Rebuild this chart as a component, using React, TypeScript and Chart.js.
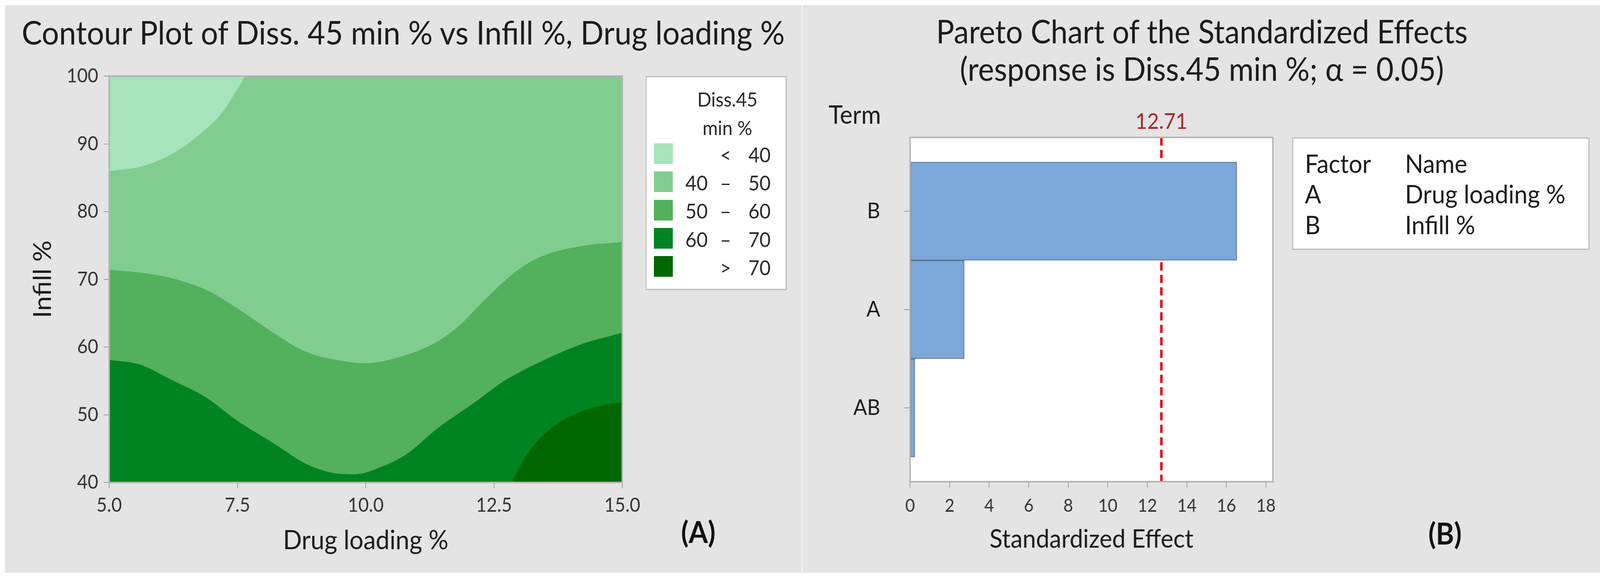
import React, { useEffect, useRef, useState } from 'react';
import { Chart, registerables } from 'chart.js';

Chart.register(...registerables);
Chart.defaults.font.family = 'Lato, sans-serif';
Chart.defaults.color = '#333333';

// ---------------- Contour plot (A) ----------------
const drugLoadingTicks = [5.0, 7.5, 10.0, 12.5, 15.0];
const drugLoadingTickLabels = ['5.0', '7.5', '10.0', '12.5', '15.0'];
const infillTicks = [40, 50, 60, 70, 80, 90, 100];
const infillTickLabels = ['40', '50', '60', '70', '80', '90', '100'];

const levelFirst = ['', '40', '50', '60', ''];
const levelSymbol = ['<', '–', '–', '–', '>'];
const levelSecond = ['40', '50', '60', '70', '70'];
const levelColors = ['#a6e4bb', '#80cd8f', '#53b05c', '#008321', '#006700'];
const legendTitleLines = ['Diss.45', 'min %'];

// background band (40 – 50) covering the whole design space
const band4050X = [5.0, 15.0];
const band4050Y = [100, 100];
// contour boundaries (Drug loading %, Infill %)
const contour40X = [5.0, 5.6, 6.2, 6.7, 7.2, 7.5, 7.65];
const contour40Y = [86.0, 86.6, 88.4, 91.0, 94.6, 98.1, 100.0];
const contour50X = [5.0, 5.6, 6.2, 6.9, 7.5, 8.2, 8.8, 9.5, 10.0, 10.6, 11.3, 11.8, 12.3, 12.9, 13.4, 14.2, 15.0];
const contour50Y = [71.4, 71.0, 70.2, 68.4, 65.7, 62.1, 59.4, 58.0, 57.6, 58.4, 60.4, 63.0, 66.8, 71.0, 73.3, 74.9, 75.5];
const contour60X = [5.0, 5.6, 6.2, 6.9, 7.5, 8.2, 8.8, 9.3, 9.8, 10.3, 10.8, 11.4, 12.1, 12.7, 13.4, 14.2, 15.0];
const contour60Y = [58.1, 57.4, 55.2, 52.5, 49.1, 45.8, 42.9, 41.5, 41.2, 42.3, 44.2, 48.0, 51.7, 55.0, 57.8, 60.4, 62.1];
const contour70X = [12.85, 13.06, 13.38, 13.87, 14.36, 15.0];
const contour70Y = [40.0, 43.1, 46.4, 49.3, 50.9, 51.9];

// ---------------- Pareto chart (B) ----------------
const terms = ['B', 'A', 'AB'];
const termRanks = [1, 2, 3];
const standardizedEffects = [16.53, 2.74, 0.24];
const effectTicks = [0, 2, 4, 6, 8, 10, 12, 14, 16, 18];
const criticalEffect = 12.71;
const factorCodes = ['A', 'B'];
const factorNames = ['Drug loading %', 'Infill %'];

const PAGE_W = 4397;
const PAGE_H = 1491;
const PANEL_BG = '#e4e4e4';
const FRAME = '#b4b4b4';
const TEXT = '#1c1c1c';

const toPts = (xs: number[], ys: number[]) => xs.map((x, i) => ({ x, y: ys[i] }));

const framePlugin = (fill?: string) => ({
  id: 'frame',
  beforeDraw(chart: any) {
    if (!fill) return;
    const { left, top, width, height } = chart.chartArea;
    const ctx = chart.ctx;
    ctx.save();
    ctx.fillStyle = fill;
    ctx.fillRect(left, top, width, height);
    ctx.restore();
  },
  afterDraw(chart: any) {
    const { left, top, width, height } = chart.chartArea;
    const ctx = chart.ctx;
    ctx.save();
    ctx.strokeStyle = FRAME;
    ctx.lineWidth = 4;
    ctx.strokeRect(left, top, width, height);
    ctx.restore();
  },
});

const criticalLinePlugin = {
  id: 'criticalLine',
  beforeDatasetsDraw(chart: any) {
    const ctx = chart.ctx;
    const x = chart.scales.x.getPixelForValue(criticalEffect);
    const { top, bottom } = chart.chartArea;
    ctx.save();
    ctx.setLineDash([21, 11]);
    ctx.strokeStyle = '#e01019';
    ctx.lineWidth = 7;
    ctx.beginPath();
    ctx.moveTo(x, top);
    ctx.lineTo(x, bottom);
    ctx.stroke();
    ctx.setLineDash([]);
    ctx.fillStyle = '#a3252b';
    ctx.font = '56px Lato, sans-serif';
    ctx.textAlign = 'center';
    ctx.textBaseline = 'middle';
    ctx.fillText(criticalEffect.toFixed(2), x, top - 40);
    ctx.restore();
  },
};

function ContourChart() {
  const ref = useRef<HTMLCanvasElement>(null);
  useEffect(() => {
    const layer = (xs: number[], ys: number[], color: string, fill: string, order: number) => ({
      data: toPts(xs, ys),
      backgroundColor: color,
      borderColor: color,
      borderWidth: 0,
      pointRadius: 0,
      fill,
      order,
      cubicInterpolationMode: 'monotone' as const,
    });
    const chart = new Chart(ref.current as HTMLCanvasElement, {
      type: 'line',
      data: {
        datasets: [
          layer(band4050X, band4050Y, levelColors[1], 'start', 5),
          layer(contour50X, contour50Y, levelColors[2], 'start', 4),
          layer(contour60X, contour60Y, levelColors[3], 'start', 3),
          layer(contour70X, contour70Y, levelColors[4], 'start', 2),
          layer(contour40X, contour40Y, levelColors[0], 'end', 1),
        ] as any,
      },
      options: {
        animation: false,
        responsive: false,
        devicePixelRatio: 1,
        layout: { padding: { top: 182, right: 493, left: 0, bottom: 0 } },
        plugins: { legend: { display: false }, tooltip: { enabled: false }, title: { display: false } },
        scales: {
          x: {
            type: 'linear',
            min: 5,
            max: 15,
            afterBuildTicks: (s: any) => { s.ticks = drugLoadingTicks.map((v) => ({ value: v })); },
            afterFit: (s: any) => { s.height = 231; },
            ticks: {
              callback: (_v: any, i: number) => drugLoadingTickLabels[i],
              font: { size: 50 },
              color: '#333333',
              padding: 14,
              maxRotation: 0,
              autoSkip: false,
            },
            grid: { drawOnChartArea: false, drawTicks: true, tickLength: 15, color: '#9a9a9a', lineWidth: 2 },
            border: { display: false },
            title: { display: true, text: 'Drug loading %', font: { size: 68 }, color: TEXT, padding: { top: 0, bottom: 41 } },
          },
          y: {
            type: 'linear',
            min: 40,
            max: 100,
            afterBuildTicks: (s: any) => { s.ticks = infillTicks.map((v) => ({ value: v })); },
            afterFit: (s: any) => { s.width = 286; },
            ticks: {
              callback: (_v: any, i: number) => infillTickLabels[i],
              font: { size: 50 },
              color: '#333333',
              padding: 15,
              autoSkip: false,
            },
            grid: { drawOnChartArea: false, drawTicks: true, tickLength: 15, color: '#9a9a9a', lineWidth: 2 },
            border: { display: false },
            title: { display: true, text: 'Infill %', font: { size: 68 }, color: TEXT, padding: { top: 63, bottom: 0 } },
          },
        },
      } as any,
      plugins: [framePlugin()],
    });
    return () => chart.destroy();
  }, []);
  return (
    <canvas
      ref={ref}
      width={2189}
      height={1454}
      style={{ position: 'absolute', left: 14, top: 13, width: 2189, height: 1454 }}
    />
  );
}

function ParetoChart() {
  const ref = useRef<HTMLCanvasElement>(null);
  useEffect(() => {
    const chart = new Chart(ref.current as HTMLCanvasElement, {
      type: 'bar',
      data: {
        datasets: [
          {
            data: termRanks.map((r, i) => ({ x: standardizedEffects[i], y: r })),
            backgroundColor: '#7ba7d9',
            borderColor: '#55708f',
            borderWidth: 2,
            borderSkipped: false,
            barPercentage: 1,
            categoryPercentage: 1,
          },
        ] as any,
      },
      options: {
        indexAxis: 'y',
        animation: false,
        responsive: false,
        devicePixelRatio: 1,
        layout: { padding: { top: 339, right: 899, left: 0, bottom: 0 } },
        plugins: { legend: { display: false }, tooltip: { enabled: false }, title: { display: false } },
        scales: {
          x: {
            type: 'linear',
            min: 0,
            max: 18.35,
            offset: false,
            afterBuildTicks: (s: any) => { s.ticks = effectTicks.map((v) => ({ value: v })); },
            afterFit: (s: any) => { s.height = 233; },
            ticks: {
              callback: (_v: any, i: number) => String(effectTicks[i]),
              font: { size: 46 },
              color: '#333333',
              padding: 20,
              maxRotation: 0,
              autoSkip: false,
            },
            grid: { offset: false, drawOnChartArea: false, drawTicks: true, tickLength: 15, color: '#9a9a9a', lineWidth: 2 },
            border: { display: false },
            title: { display: true, text: 'Standardized Effect', font: { size: 66 }, color: TEXT, padding: { top: 0, bottom: 46 } },
          },
          y: {
            type: 'linear',
            min: 0.25,
            max: 3.75,
            reverse: true,
            offset: false,
            afterBuildTicks: (s: any) => { s.ticks = termRanks.map((v) => ({ value: v })); },
            afterFit: (s: any) => { s.width = 295; },
            ticks: {
              callback: (_v: any, i: number) => terms[i],
              font: { size: 56 },
              color: TEXT,
              padding: 65,
              autoSkip: false,
            },
            grid: { offset: false, drawOnChartArea: false, drawTicks: true, tickLength: 17, color: '#9a9a9a', lineWidth: 2 },
            border: { display: false },
          },
        },
      } as any,
      plugins: [framePlugin('#ffffff'), criticalLinePlugin],
    });
    return () => chart.destroy();
  }, []);
  return (
    <canvas
      ref={ref}
      width={2191}
      height={1454}
      style={{ position: 'absolute', left: 2206, top: 13, width: 2191, height: 1454 }}
    />
  );
}

type TxtProps = {
  x: number;
  y: number;
  size: number;
  anchor?: 'left' | 'center' | 'right';
  weight?: number;
  color?: string;
  children: React.ReactNode;
};

function Txt({ x, y, size, anchor = 'left', weight = 400, color = TEXT, children }: TxtProps) {
  const tx = anchor === 'center' ? '-50%' : anchor === 'right' ? '-100%' : '0';
  return (
    <div
      style={{
        position: 'absolute',
        left: x,
        top: y - size * 0.53,
        fontSize: size,
        lineHeight: `${size}px`,
        height: size,
        whiteSpace: 'nowrap',
        transform: `translateX(${tx})`,
        fontWeight: weight,
        color,
      }}
    >
      {children}
    </div>
  );
}

const fitScale = () => ({ sx: window.innerWidth / PAGE_W, sy: window.innerHeight / PAGE_H });

export default function App() {
  const [scale, setScale] = useState(fitScale);
  useEffect(() => {
    document.body.style.margin = '0';
    document.body.style.overflow = 'hidden';
    const onResize = () => setScale(fitScale());
    onResize();
    window.addEventListener('resize', onResize);
    return () => window.removeEventListener('resize', onResize);
  }, []);
  const legendRowY = (i: number) => 393 + i * 72.25;
  const factorRowY = (i: number) => 498 + i * 79;
  return (
    <div style={{ position: 'fixed', left: 0, top: 0, width: '100vw', height: '100vh', overflow: 'hidden', background: '#ffffff' }}>
      <div
        style={{
          position: 'absolute',
          left: 0,
          top: 0,
          width: PAGE_W,
          height: PAGE_H,
          transform: `scale(${scale.sx}, ${scale.sy})`,
          transformOrigin: '0 0',
          background: '#ffffff',
          fontFamily: 'Lato, sans-serif',
          overflow: 'hidden',
        }}
      >
        <div style={{ position: 'absolute', left: 14, top: 13, width: 2189, height: 1454, background: PANEL_BG }} />
        <div style={{ position: 'absolute', left: 2203, top: 13, width: 3, height: 1454, background: '#f1f1f1' }} />
        <div style={{ position: 'absolute', left: 2206, top: 13, width: 2191, height: 1454, background: PANEL_BG }} />

        <ContourChart />
        <ParetoChart />

        {/* Panel A texts */}
        <Txt x={1108} y={85} size={84} anchor="center">
          Contour Plot of Diss. 45 min % vs Infill %, Drug loading %
        </Txt>
        <div
          style={{
            position: 'absolute',
            left: 1774,
            top: 195,
            width: 388,
            height: 548,
            boxSizing: 'border-box',
            border: '3px solid #bcbcbc',
            background: '#ffffff',
          }}
        />
        {legendTitleLines.map((t, i) => (
          <Txt key={t} x={1999} y={255 + i * 73} size={51} anchor="center" color="#2a2a2a">
            {t}
          </Txt>
        ))}
        {levelColors.map((c, i) => (
          <React.Fragment key={c}>
            <div
              style={{
                position: 'absolute',
                left: 1797,
                top: legendRowY(i) - 26,
                width: 52,
                height: 53,
                background: c,
              }}
            />
            {levelFirst[i] && (
              <Txt x={1945} y={legendRowY(i) + 4} size={53} anchor="right" color="#2a2a2a">
                {levelFirst[i]}
              </Txt>
            )}
            <Txt x={1994} y={legendRowY(i) + 4} size={53} anchor="center" color="#2a2a2a">
              {levelSymbol[i]}
            </Txt>
            <Txt x={2118} y={legendRowY(i) + 4} size={53} anchor="right" color="#2a2a2a">
              {levelSecond[i]}
            </Txt>
          </React.Fragment>
        ))}
        <Txt x={1919} y={1364} size={76} anchor="center" weight={700} color="#111111">
          (A)
        </Txt>

        {/* Panel B texts */}
        <Txt x={3303} y={82} size={83} anchor="center">
          Pareto Chart of the Standardized Effects
        </Txt>
        <Txt x={3303} y={178} size={83} anchor="center">
          (response is Diss.45 min %; α = 0.05)
        </Txt>
        <Txt x={2277} y={294} size={66}>
          Term
        </Txt>
        <div
          style={{
            position: 'absolute',
            left: 3551,
            top: 352,
            width: 817,
            height: 288,
            boxSizing: 'border-box',
            border: '3px solid #bcbcbc',
            background: '#ffffff',
          }}
        />
        <Txt x={3586} y={420} size={66}>
          Factor
        </Txt>
        <Txt x={3861} y={420} size={66}>
          Name
        </Txt>
        {factorCodes.map((f, i) => (
          <React.Fragment key={f}>
            <Txt x={3586} y={factorRowY(i)} size={66}>
              {f}
            </Txt>
            <Txt x={3861} y={factorRowY(i)} size={66}>
              {factorNames[i]}
            </Txt>
          </React.Fragment>
        ))}
        <Txt x={3971} y={1368} size={76} anchor="center" weight={700} color="#111111">
          (B)
        </Txt>
      </div>
    </div>
  );
}
